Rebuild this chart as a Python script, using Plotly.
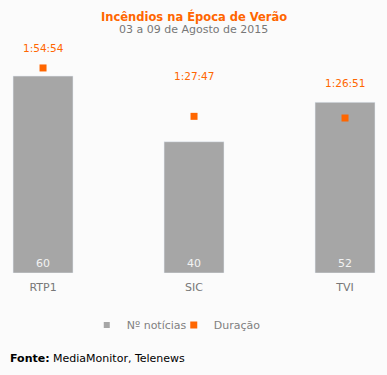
import plotly.graph_objects as go

canais = ["RTP1", "SIC", "TVI"]
noticias = [60, 40, 52]
duracao_txt = ["1:54:54", "1:27:47", "1:26:51"]

def to_sec(t):
    h, m, s = (int(p) for p in t.split(":"))
    return h * 3600 + m * 60 + s

duracao_s = [to_sec(t) for t in duracao_txt]

GRAY = "#a6a6a6"
ORANGE = "#ff6600"
BG = "#fbfbfb"
FONT = "DejaVu Sans"

label_shift = [20, 40, 35]  # pixel offset of duration labels above markers

xs = list(range(len(canais)))

fig = go.Figure()
fig.add_trace(go.Bar(
    x=xs, y=noticias, name="Nº notícias", marker_color=GRAY, width=0.397,
    text=[str(v) for v in noticias], textposition="inside", insidetextanchor="start",
    textfont=dict(color="#f2f2f2", size=11, family=FONT), hoverinfo="skip",
    yaxis="y", showlegend=False, legendgroup="n",
))
# legend proxy with a small square swatch like the original
fig.add_trace(go.Scatter(
    x=[None], y=[None], name="Nº notícias", mode="markers", legendgroup="n",
    marker=dict(symbol="square", size=6, color=GRAY),
))
fig.add_trace(go.Scatter(
    x=xs, y=duracao_s, name="Duração", mode="markers",
    marker=dict(symbol="square", size=7, color=ORANGE), yaxis="y2",
))

for xi, ys, txt, sh in zip(xs, duracao_s, duracao_txt, label_shift):
    fig.add_annotation(x=xi, y=ys, yref="y2", text=txt, showarrow=False, yshift=sh,
                       font=dict(color=ORANGE, size=10.5, family=FONT))

fig.add_annotation(xref="paper", yref="paper", x=0.5, y=1, yshift=24, text="<b>Incêndios na Época de Verão</b>",
                   showarrow=False, font=dict(color=ORANGE, size=11.5, family=FONT), yanchor="middle")
fig.add_annotation(xref="paper", yref="paper", x=0.5, y=1, yshift=11, text="03 a 09 de Agosto de 2015",
                   showarrow=False, font=dict(color="#777777", size=11, family=FONT), yanchor="middle")
fig.add_annotation(xref="paper", yref="paper", x=0, xshift=8, y=0, yshift=-85, xanchor="left", yanchor="middle",
                   text="<b>Fonte:</b> MediaMonitor, Telenews", showarrow=False,
                   font=dict(color="#000000", size=11, family=FONT))

fig.update_layout(
    width=387, height=375,
    margin=dict(l=0, r=0, t=40, b=102),
    paper_bgcolor=BG, plot_bgcolor=BG,
    font=dict(family=FONT, size=11, color="#777777"),
    showlegend=True,
    legend=dict(orientation="h", x=0.449, xanchor="center", y=-0.223, yanchor="middle",
                font=dict(size=11, color="#808080"), itemwidth=30, entrywidth=42,
                bgcolor="rgba(0,0,0,0)", traceorder="normal"),
    xaxis=dict(range=[-0.285, 2.278], tickvals=xs, ticktext=canais, showgrid=False, zeroline=False,
               showline=False, ticks="outside", ticklen=4, tickcolor=BG,
               tickfont=dict(size=11, color="#777777")),
    yaxis=dict(range=[0, 71.0], visible=False, showgrid=False, zeroline=False),
    yaxis2=dict(range=[0, 7834], overlaying="y", visible=False, showgrid=False, zeroline=False),
    bargap=0.6,
)

fig.write_html("out.html", config={"displayModeBar": False},
               post_script="document.body.style.margin='0';document.body.style.background='%s';" % BG)
